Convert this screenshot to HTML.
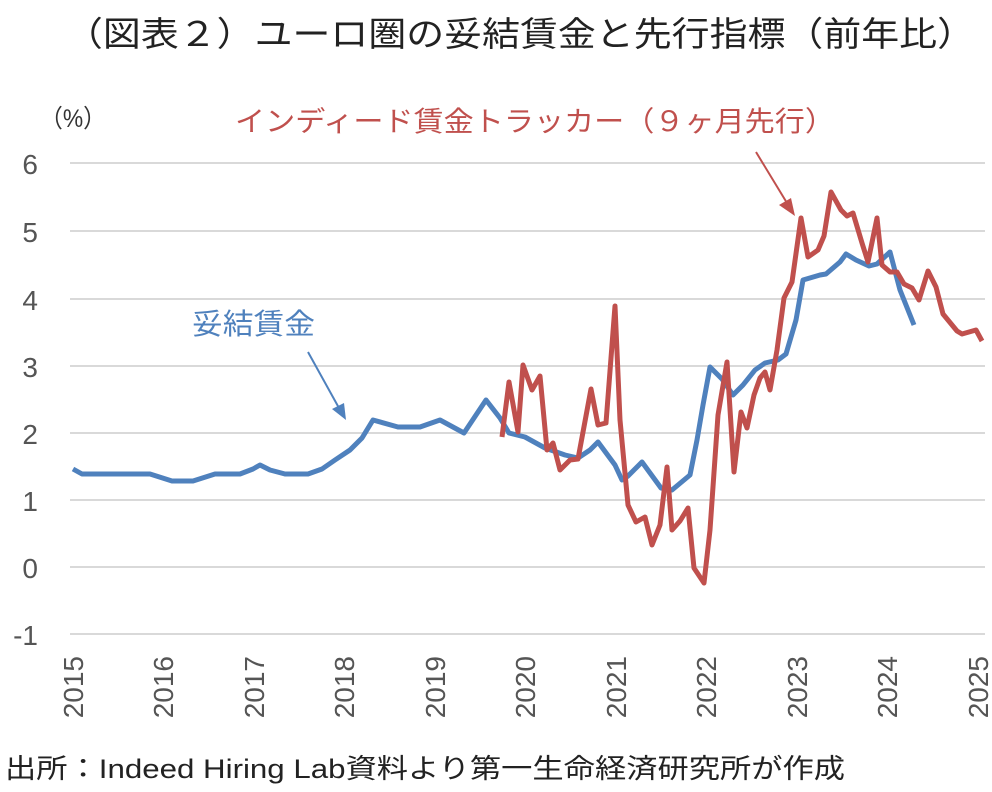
<!DOCTYPE html>
<html><head><meta charset="utf-8"><style>
body{margin:0;background:#fff;}
svg text{font-family:"Liberation Sans","Noto Sans CJK JP",sans-serif;}
</style></head><body>
<svg width="992" height="787" viewBox="0 0 992 787" xmlns="http://www.w3.org/2000/svg">
<rect width="992" height="787" fill="#fff"/>
<text x="65" y="46" font-size="34" textLength="910" lengthAdjust="spacingAndGlyphs" fill="#222">（図表２）ユーロ圏の妥結賃金と先行指標（前年比）</text>
<text x="40" y="127" font-size="25" textLength="66" lengthAdjust="spacingAndGlyphs" fill="#333">（%）</text>
<g stroke="#d9d9d9" stroke-width="2">
<line x1="70" x2="985" y1="163" y2="163"/><line x1="70" x2="985" y1="231" y2="231"/>
<line x1="70" x2="985" y1="299" y2="299"/><line x1="70" x2="985" y1="366" y2="366"/>
<line x1="70" x2="985" y1="433" y2="433"/><line x1="70" x2="985" y1="500" y2="500"/>
<line x1="70" x2="985" y1="567" y2="567"/><line x1="70" x2="985" y1="634" y2="634"/>
</g>
<g font-size="28" fill="#555" text-anchor="end">
<text x="38" y="174">6</text><text x="38" y="242">5</text><text x="38" y="310">4</text>
<text x="38" y="377">3</text><text x="38" y="444">2</text><text x="38" y="511">1</text>
<text x="38" y="578">0</text><text x="38" y="645">-1</text>
</g>
<g font-size="28" fill="#555" text-anchor="end">
<text transform="translate(83,656) rotate(-90)">2015</text>
<text transform="translate(173,656) rotate(-90)">2016</text>
<text transform="translate(264,656) rotate(-90)">2017</text>
<text transform="translate(354,656) rotate(-90)">2018</text>
<text transform="translate(445,656) rotate(-90)">2019</text>
<text transform="translate(535,656) rotate(-90)">2020</text>
<text transform="translate(626,656) rotate(-90)">2021</text>
<text transform="translate(716,656) rotate(-90)">2022</text>
<text transform="translate(807,656) rotate(-90)">2023</text>
<text transform="translate(897,656) rotate(-90)">2024</text>
<text transform="translate(988,656) rotate(-90)">2025</text>
</g>
<polyline fill="none" stroke="#4f81bd" stroke-width="5" stroke-linejoin="round" points="73,469 82,474 150,474 172,481 193,481 215,474 240,474 253,469 260,465 270,470 285,474 308,474 322,469 335,460 350,450 362,438 373,420 398,427 420,427 440,420 464,433 486,400 500,418 509,433 525,437 545,448 565,455 578,458 590,450 598,442 615,465 622,480 628,476 642,462 661,488 672,490 690,475 697,440 703,405 710,367 722,379 733,395 743,385 755,370 765,363 778,360 786,354 796,320 803,280 820,275 826,274 840,262 846,254 856,260 869,266 877,264 890,252 900,290 914,325"/>
<polyline fill="none" stroke="#c0504d" stroke-width="5" stroke-linejoin="round" points="502,437 509,382 518,432 523,365 532,390 540,376 547,450 553,443 560,470 570,460 578,459 591,389 598,425 606,423 615,306 620,420 628,505 636,522 645,517 652,545 660,525 667,467 672,530 680,521 688,508 694,568 704,583 710,530 718,415 727,362 734,472 741,412 747,428 754,395 760,378 765,372 770,390 777,350 784,298 792,282 801,218 808,257 818,250 824,236 831,192 841,210 847,216 853,213 862,243 868,262 877,218 882,265 890,272 897,272 904,284 912,288 919,300 928,271 936,287 943,314 957,331 962,334 976,330 982,341"/>
<text x="235" y="131" font-size="28" textLength="600" lengthAdjust="spacingAndGlyphs" fill="#c0504d">インディード賃金トラッカー（９ヶ月先行）</text>
<line x1="756" y1="152" x2="787" y2="203" stroke="#c0504d" stroke-width="2"/>
<polygon points="795,216 779,205 791,198" fill="#c0504d"/>
<text x="192" y="334" font-size="29" textLength="123" lengthAdjust="spacingAndGlyphs" fill="#4f81bd">妥結賃金</text>
<line x1="308" y1="352" x2="339" y2="408" stroke="#4f81bd" stroke-width="2"/>
<polygon points="346,420 332,409 344,403" fill="#4f81bd"/>
<text x="5" y="778" font-size="27" textLength="840" lengthAdjust="spacingAndGlyphs" fill="#222">出所：Indeed Hiring Lab資料より第一生命経済研究所が作成</text>
</svg>
</body></html>
